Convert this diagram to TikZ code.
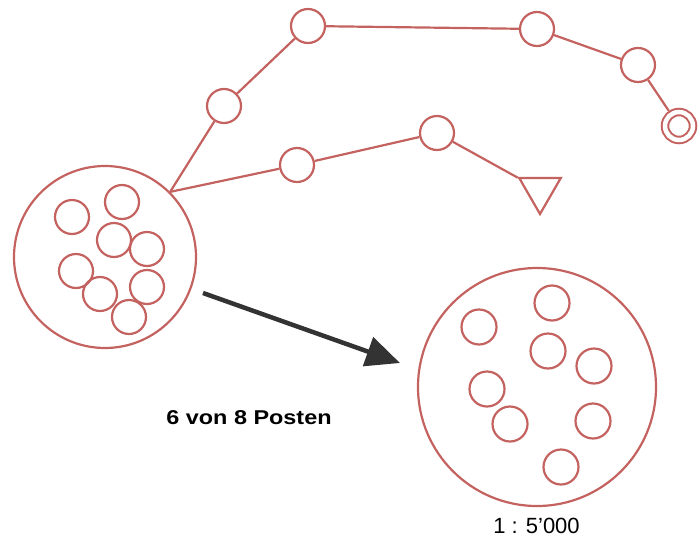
\documentclass[tikz,border=0pt]{standalone}
\usepackage{fontspec}
\setmainfont{Liberation Sans}
\usepackage{graphicx}
\usepackage{tikz}
\usetikzlibrary{arrows.meta,shapes.geometric}
\definecolor{postenrot}{RGB}{196,98,96}
\definecolor{pfeilgrau}{RGB}{51,51,51}

\begin{document}
\begin{tikzpicture}[x=1pt,y=-1pt,
  posten/.style={draw=postenrot, line width=2.2pt, circle, inner sep=0pt, minimum size=34pt},
  bereich/.style={draw=postenrot, line width=2.2pt, circle, inner sep=0pt},
  strecke/.style={postenrot, line width=2.2pt}]
\useasboundingbox (0,0) rectangle (700,538);

% Draw the large circle on the left with the eight controls inside
\node[bereich, minimum size=182pt] (links) at (105,257) {};
\node[posten] (l1) at (72,217) {};
\node[posten] (l2) at (122,202) {};
\node[posten] (l3) at (114,240) {};
\node[posten] (l4) at (147,249) {};
\node[posten] (l5) at (76,271) {};
\node[posten] (l6) at (100,294) {};
\node[posten] (l7) at (147,287) {};
\node[posten] (l8) at (129,317) {};

% Upper course up to the finish
\node[posten] (a1) at (224,106) {};
\node[posten] (a2) at (308,26) {};
\node[posten] (a3) at (537,29) {};
\node[posten] (a4) at (638,65) {};
\node[draw=postenrot, line width=2pt, double, double distance=4.5pt, circle,
  inner sep=0pt, minimum size=28pt, outer sep=4.2pt] (ziel) at (679,126) {};
\draw[strecke] (links.45) -- (a1) -- (a2) -- (a3) -- (a4) -- (ziel);

% Lower course down to the start triangle
\node[posten] (b1) at (297,165) {};
\node[posten] (b2) at (437,133) {};
\node[draw=postenrot, line width=2.2pt, regular polygon, regular polygon sides=3,
  shape border rotate=180, minimum size=48pt, inner sep=0pt] (start) at (540,190) {};
\draw[strecke] (links.45) -- (b1) -- (b2) -- (start);

% Arrow towards the enlarged circle
\coordinate (pfeilA) at (203,293);
\coordinate (pfeilB) at (400,363);
\draw[pfeilgrau, line width=4.5pt, -{Triangle[length=34pt,width=30pt]}] (pfeilA) -- (pfeilB);

% Draw the large circle on the right with its eight controls
\node[bereich, minimum size=238pt] (rechts) at (537,387) {};
\node[posten, minimum size=35pt] (r1) at (552,303) {};
\node[posten, minimum size=35pt] (r2) at (479,327) {};
\node[posten, minimum size=35pt] (r3) at (548,351) {};
\node[posten, minimum size=35pt] (r4) at (594,366) {};
\node[posten, minimum size=35pt] (r5) at (487,389) {};
\node[posten, minimum size=35pt] (r6) at (510,424) {};
\node[posten, minimum size=35pt] (r7) at (593,421) {};
\node[posten, minimum size=35pt] (r8) at (561,467) {};

% Add labels
\node[anchor=base, font=\bfseries\fontsize{20}{24}\selectfont] (anzahl) at (249,424) {\scalebox{1.17}[1]{6 von 8 Posten}};
\node[anchor=base, font=\fontsize{22}{26}\selectfont] (massstab) at (536.5,533) {1 : 5’000};

\end{tikzpicture}
\end{document}
